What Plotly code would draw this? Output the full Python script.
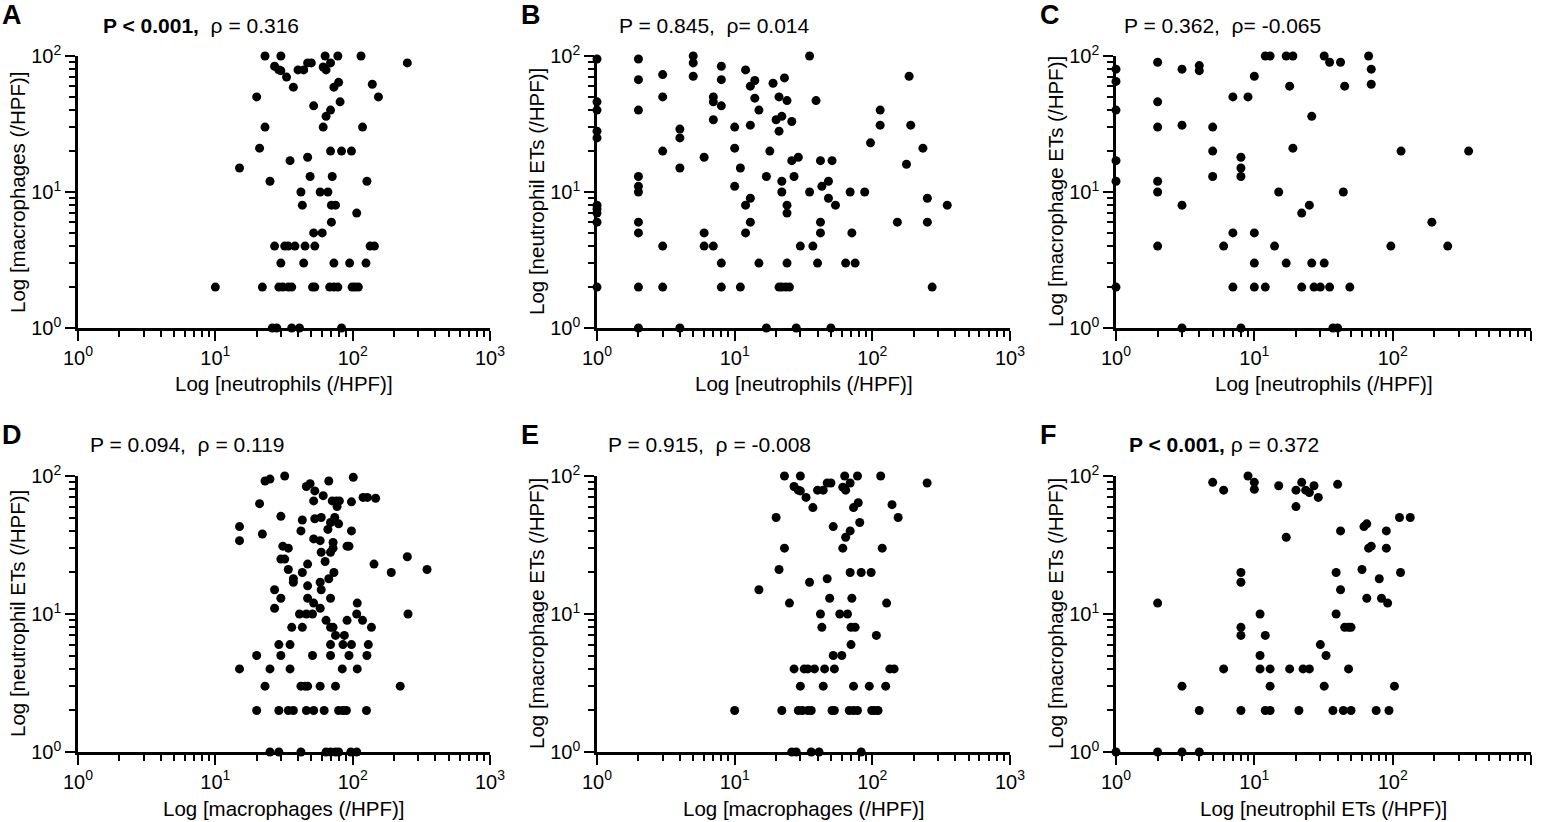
import plotly.graph_objects as go

FONT = "Liberation Sans, Arial, sans-serif"
W, H = 1542, 822

# --- A: neutrophils vs macrophages ---
A_x = [23, 30, 63, 78, 115, 250, 27, 29, 30, 40, 44, 47, 50, 61, 64, 69, 33, 37,
       79, 73, 139, 154, 20, 52, 81, 69, 64, 61, 23, 118, 21, 69, 83, 98, 47, 35,
       15, 49, 71, 25, 127, 42, 58, 66, 43, 70, 75, 107, 70, 52, 60,
       27, 32, 34, 38, 45, 53, 134, 144, 30, 44, 73, 95, 125,
       10, 22, 29, 31, 34, 36, 51, 53, 68, 73, 78, 99, 104, 110,
       26, 28, 36, 41, 83]
A_y = [100, 100, 100, 100, 100, 89, 84, 79, 78, 79, 79, 89, 89, 83, 79, 89, 70, 59,
       64, 59, 62, 50, 50, 43, 46, 40, 36, 30, 30, 30, 21, 20, 20, 20, 18, 17,
       15, 13, 13, 12, 12, 10, 10, 10, 8, 8, 8, 7, 6, 5, 5,
       4, 4, 4, 4, 4, 4, 4, 4, 3, 3, 3, 3, 3,
       2, 2, 2, 2, 2, 2, 2, 2, 2, 2, 2, 2, 2, 2,
       1, 1, 1, 1, 1]

# --- B: neutrophils vs neutrophil ETs ---
B_x = [1, 1, 1, 1, 1, 1, 1, 1, 1, 1,
       2, 2, 2, 2, 2, 2, 2, 2, 2, 2,
       3, 3, 3, 3, 3, 4, 4, 4, 4, 5, 5, 5, 6, 6, 6, 7, 7, 7, 7,
       8, 8, 8, 8, 8, 10, 10, 10, 11, 11, 12, 12, 12, 13, 13, 13, 13,
       14, 14, 15, 15, 17, 17, 18, 19, 20, 21, 22, 21, 22, 22, 23,
       24, 24, 24, 24, 21, 22, 23.5, 25, 26, 26, 27, 29, 30, 28,
       35, 35, 37, 39, 40, 42, 42, 42, 43, 48, 48, 51, 54, 50,
       64, 69, 71, 75, 88, 97, 114, 114, 152, 177, 185, 190, 233, 251, 251, 272, 350]
B_y = [95, 46, 40, 28, 25, 8, 7.5, 7, 6, 2,
       95, 67, 40, 13, 11, 10, 6, 5, 2, 1,
       73, 50, 20, 4, 2, 29, 25, 15, 1, 100, 89, 71, 18, 5, 4, 50, 46, 34, 4,
       84, 67, 43, 3, 2, 30, 21, 11, 15, 2, 79, 8, 5, 60, 31, 9, 6,
       66, 49, 40, 3, 13, 1, 20, 63, 34, 50, 36, 28, 12, 10, 69,
       47, 8, 7, 3, 2, 2, 2, 2, 33, 17, 13, 18, 4, 1,
       100, 10, 4, 47, 3, 17, 6, 5, 11, 12, 9, 17, 8, 1,
       3, 10, 5, 3, 10, 23, 31, 40, 6, 16, 71, 31, 21, 9, 6, 2, 8]

# --- C: neutrophils vs macrophage ETs ---
C_x = [1, 1, 1, 1, 1, 1, 2, 2, 2, 2, 2, 2, 3, 3, 3, 3, 4, 4, 5, 5, 5, 6,
       7, 7, 7, 8, 8, 8, 8, 9, 10, 10, 10, 10, 12, 12, 13, 14, 15, 17, 17, 18,
       19, 19, 22, 22, 25, 26, 26, 27, 30, 32, 32, 35, 35, 37, 40, 42, 44, 45,
       49, 67, 70, 70, 97, 115, 192, 250, 354]
C_y = [80, 65, 40, 17, 12, 2, 90, 46, 30, 12, 10, 4, 80, 31, 8, 1, 85, 78, 30, 20, 13, 4,
       50, 5, 2, 18, 15, 13, 1, 50, 71, 5, 3, 2, 100, 2, 100, 4, 10, 100, 3, 60,
       100, 21, 7, 2, 8, 36, 3, 2, 2, 100, 3, 90, 2, 1, 1, 90, 10, 60,
       2, 100, 80, 62, 4, 20, 6, 4, 20]

# --- D: macrophages vs neutrophil ETs ---
D_x = [23, 25, 32, 46, 49, 53, 67, 101, 61, 52, 71, 76, 80, 77, 98, 119, 128, 147, 21,
       15, 15, 22, 30, 43, 42, 53, 59, 74, 79, 69, 66, 98, 52, 58, 72, 72, 91, 94,
       31, 34, 30, 32, 59, 69, 63, 47, 34, 43, 73, 143, 191, 250, 348,
       37, 37, 58, 67, 47, 59, 27, 30, 47, 69, 27, 52, 58, 108,
       41, 46, 51, 107, 253, 64, 91, 118, 36, 43, 69, 72, 137, 75, 87,
       29, 35, 69, 85, 98, 130, 20, 30, 51, 69, 94, 127,
       15, 25, 35, 84, 108, 23, 42, 45, 47, 58, 75, 222,
       20, 29, 34, 37, 46, 52, 62, 79, 85, 90, 126,
       25, 29, 42, 64, 69, 75, 79, 97, 107]
D_y = [92, 95, 100, 84, 88, 78, 92, 98, 72, 66, 66, 66, 66, 60, 65, 70, 70, 69, 63,
       43, 34, 38, 51, 48, 40, 49, 50, 50, 45, 46, 41, 40, 35, 34, 33, 30, 31, 31,
       31, 30, 25, 25, 28, 28, 24, 23, 21, 20, 20, 23, 20, 26, 21,
       17, 18, 17, 18, 16, 15, 15, 13, 13, 13, 11, 12, 11, 12,
       10, 10, 10, 10, 10, 9, 9, 9, 8, 8, 8, 8, 8, 7, 7,
       6, 6, 6, 6, 6, 6, 5, 5, 5, 5, 5, 5,
       4, 4, 4, 4, 4, 3, 3, 3, 3, 3, 3, 3,
       2, 2, 2, 2, 2, 2, 2, 2, 2, 2, 2,
       1, 1, 1, 1, 1, 1, 1, 1, 1]

# --- E: macrophages vs macrophage ETs (same scatter as A in the figure) ---
E_x = list(A_x)
E_y = list(A_y)

# --- F: neutrophil ETs vs macrophage ETs ---
F_x = [1, 2, 3, 4, 2, 3, 4, 5, 6, 6, 8, 8, 8, 8, 8, 9, 10, 10, 11, 11, 11,
       12, 12, 13, 13, 13, 15, 17, 18, 20, 20, 21, 22, 22.5, 25, 23.5, 25,
       27, 29, 30, 33, 32, 37, 40, 39, 39, 42, 42, 45, 48, 50, 48, 44, 50,
       60, 62, 65, 65, 67, 70, 80, 83, 90, 90, 92, 76, 94, 103, 114, 112, 134]
F_y = [1, 1, 1, 1, 12, 3, 2, 90, 79, 4, 20, 17, 8, 7, 2, 100, 90, 80, 10, 5, 4,
       7, 2, 2, 4, 3, 85, 36, 4, 79, 60, 2, 90, 4, 4, 79, 76,
       85, 70, 6, 5, 3, 2, 87, 20, 10, 40, 15, 8, 8, 8, 4, 2, 2,
       21, 43, 45, 13, 30, 31, 18, 13, 40, 30, 12, 2, 2, 3, 20, 50, 50]

NEU = "Log [neutrophils (/HPF)]"
MAC = "Log [macrophages (/HPF)]"
NET = "Log [neutrophil ETs (/HPF)]"
MET = "Log [macrophage ETs (/HPF)]"

PANELS = [
    ("A", A_x, A_y, "<b>P &lt; 0.001,</b>&nbsp; ρ = 0.316", 23, NEU, MAC),
    ("B", B_x, B_y, "P = 0.845,&nbsp; ρ= 0.014", 20, NEU, NET),
    ("C", C_x, C_y, "P = 0.362,&nbsp; ρ= -0.065", 6, NEU, MET),
    ("D", D_x, D_y, "P = 0.094,&nbsp; ρ = 0.119", 10, MAC, NET),
    ("E", E_x, E_y, "P = 0.915,&nbsp; ρ = -0.008", 9, MAC, MET),
    ("F", F_x, F_y, "<b>P &lt; 0.001,</b> ρ = 0.372", 11, NET, MET),
]

COLS = [(78, 490), (597, 1010), (1116, 1531)]   # pixel spans of the x axes
ROWS = [(56, 328), (476, 752)]                  # pixel spans of the y axes

MAJOR_X = [1, 10, 100, 1000]
MAJOR_Y = [1, 10, 100]
MINOR_X = [m * d for d in (1, 10, 100) for m in range(2, 10)]
MINOR_Y = [m * d for d in (1, 10) for m in range(2, 10)]
POW = ["10<sup>%d</sup>" % i for i in range(4)]

fig = go.Figure()
annotations = []

for i, (letter, xs, ys, ptxt, dx, xtitle, ytitle) in enumerate(PANELS):
    r, c = divmod(i, 3)
    n = "" if i == 0 else str(i + 1)
    x0, x1 = COLS[c]
    top, bot = ROWS[r]

    fig.add_trace(go.Scatter(
        x=xs, y=ys, mode="markers", xaxis="x" + n, yaxis="y" + n,
        marker=dict(size=9, color="black"), cliponaxis=False,
        showlegend=False, hoverinfo="x+y"))

    common = dict(type="log", showline=True, linecolor="black", linewidth=2.5,
                  showgrid=False, zeroline=False, ticks="outside", ticklen=10,
                  tickwidth=2, tickcolor="black", automargin=False,
                  tickfont=dict(family=FONT, size=20, color="black"))
    fig.layout["xaxis" + n] = dict(
        common, domain=[x0 / W, x1 / W], range=[0, 3], anchor="y" + n,
        tickvals=MAJOR_X, ticktext=POW,
        minor=dict(tickvals=MINOR_X, ticks="outside", ticklen=6,
                   tickwidth=2, tickcolor="black"))
    fig.layout["yaxis" + n] = dict(
        common, domain=[1 - bot / H, 1 - top / H], range=[0, 2], anchor="x" + n,
        tickvals=MAJOR_Y, ticktext=POW[:3],
        minor=dict(tickvals=MINOR_Y, ticks="outside", ticklen=6,
                   tickwidth=2, tickcolor="black"))

    xd, yd = "x%s domain" % n, "y%s domain" % n
    annotations += [
        dict(text="<b>%s</b>" % letter, xref=xd, yref=yd, x=0, y=1,
             xshift=-78, yshift=41, xanchor="left", yanchor="middle",
             showarrow=False, font=dict(family=FONT, size=27, color="black")),
        dict(text=ptxt, xref=xd, yref=yd, x=0, y=1, xshift=dx, yshift=31,
             xanchor="left", yanchor="middle", showarrow=False,
             font=dict(family=FONT, size=21, color="black")),
        dict(text=xtitle, xref=xd, yref=yd, x=0.5, y=0, yshift=-56,
             xanchor="center", yanchor="middle", showarrow=False,
             font=dict(family=FONT, size=20.5, color="black")),
        dict(text=ytitle, xref=xd, yref=yd, x=0, y=0.5, xshift=-61,
             xanchor="center", yanchor="middle", textangle=-90, showarrow=False,
             font=dict(family=FONT, size=20.5, color="black")),
    ]

fig.update_layout(
    width=W, height=H,
    margin=dict(l=0, r=0, t=0, b=0, pad=0, autoexpand=False),
    paper_bgcolor="white", plot_bgcolor="white",
    font=dict(family=FONT, color="black"),
    annotations=annotations)

# the page body has an 8px default margin; drop it so the figure fills the window
fig.write_html("out.html", config={"displayModeBar": False},
               post_script="document.body.style.margin='0';"
                           "document.body.style.overflow='hidden';")
